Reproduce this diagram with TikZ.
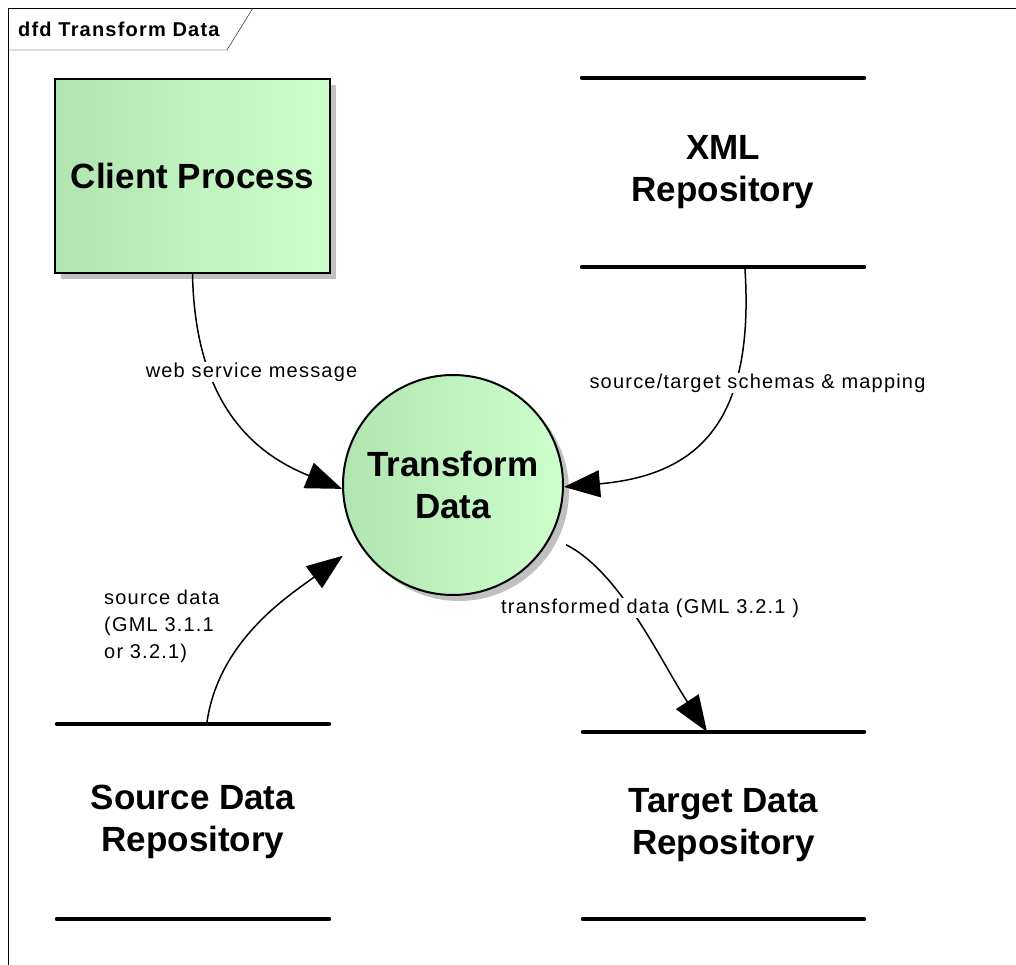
\documentclass[tikz,border=0pt]{standalone}
\usepackage{fontspec}
\setmainfont{Liberation Sans}
\newfontfamily\lblfont[LetterSpace=6]{Liberation Sans}
\usetikzlibrary{arrows.meta,shadows}
\definecolor{dfdleft}{RGB}{176,228,176}
\definecolor{dfdright}{RGB}{204,255,204}
\definecolor{dfdshade}{RGB}{192,192,192}

\begin{document}
\begin{tikzpicture}[x=1pt, y=-1pt,
    big/.style={font=\bfseries\fontsize{35}{42}\selectfont, align=center},
    proc/.style={draw, line width=2pt, left color=dfdleft, right color=dfdright,
      drop shadow={shadow xshift=6pt, shadow yshift=-6pt, fill=dfdshade, opacity=1}},
    store/.style={big, inner sep=0pt},
    flow/.style={line width=1.5pt, -{Triangle[length=36pt,width=27pt]}},
    lbl/.style={font=\lblfont\fontsize{20}{27}\selectfont, fill=white, inner sep=1pt}]
  \useasboundingbox (0,0) rectangle (1016,965);
  % diagram frame
  \draw (1016,8) -- (8,8) -- (8,965);
  \draw (8,50) -- (227,50) -- (253,8);
  \node (tab) [anchor=west, inner sep=0pt, font=\lblfont\bfseries\fontsize{20}{24}\selectfont] at (18,29) {dfd Transform Data};

  \node (client) [proc, big, minimum width=275pt, minimum height=194pt] at (192.5,176) {Client Process};
  \node (tf) [proc, big, circle, inner sep=0pt, minimum size=220pt] at (453,485) {Transform\\Data};
  \node (xml) [store, minimum width=282pt, minimum height=189pt] at (723,172.5) {XML\\Repository};
  \node (src) [store, minimum width=272pt, minimum height=195pt] at (193,821.5) {Source Data\\Repository};
  \node (tgt) [store, minimum width=281pt, minimum height=187pt] at (723.5,825.5) {Target Data\\Repository};
  \foreach \s in {xml,src,tgt}
    \draw [line width=4pt, line cap=round] (\s.north west) -- (\s.north east) (\s.south west) -- (\s.south east);

  % data flows
  \draw [flow] (client.south) .. controls (195,400) and (250,452) .. (tf.182);
  \draw [flow] (xml.-77) .. controls (755,420) and (700,475) .. (tf.-1);
  \draw [flow, shorten >=20pt] (src.82) .. controls (218,640) and (290,595) .. (tf.212);
  \draw [flow, shorten <=17pt] (tf.-28) .. controls (620,572) and (660,660) .. (tgt.100);

  \node (web) [lbl] at (251.5,372) {web service message};
  \node (map) [lbl] at (757.5,383) {source/target schemas \& mapping};
  \node (sdata) [lbl, anchor=west, align=left] at (103,626) {source data\\(GML 3.1.1\\or 3.2.1)};
  \node (tdata) [lbl, anchor=west] at (500,608) {transformed data (GML 3.2.1 )};
\end{tikzpicture}
\end{document}
